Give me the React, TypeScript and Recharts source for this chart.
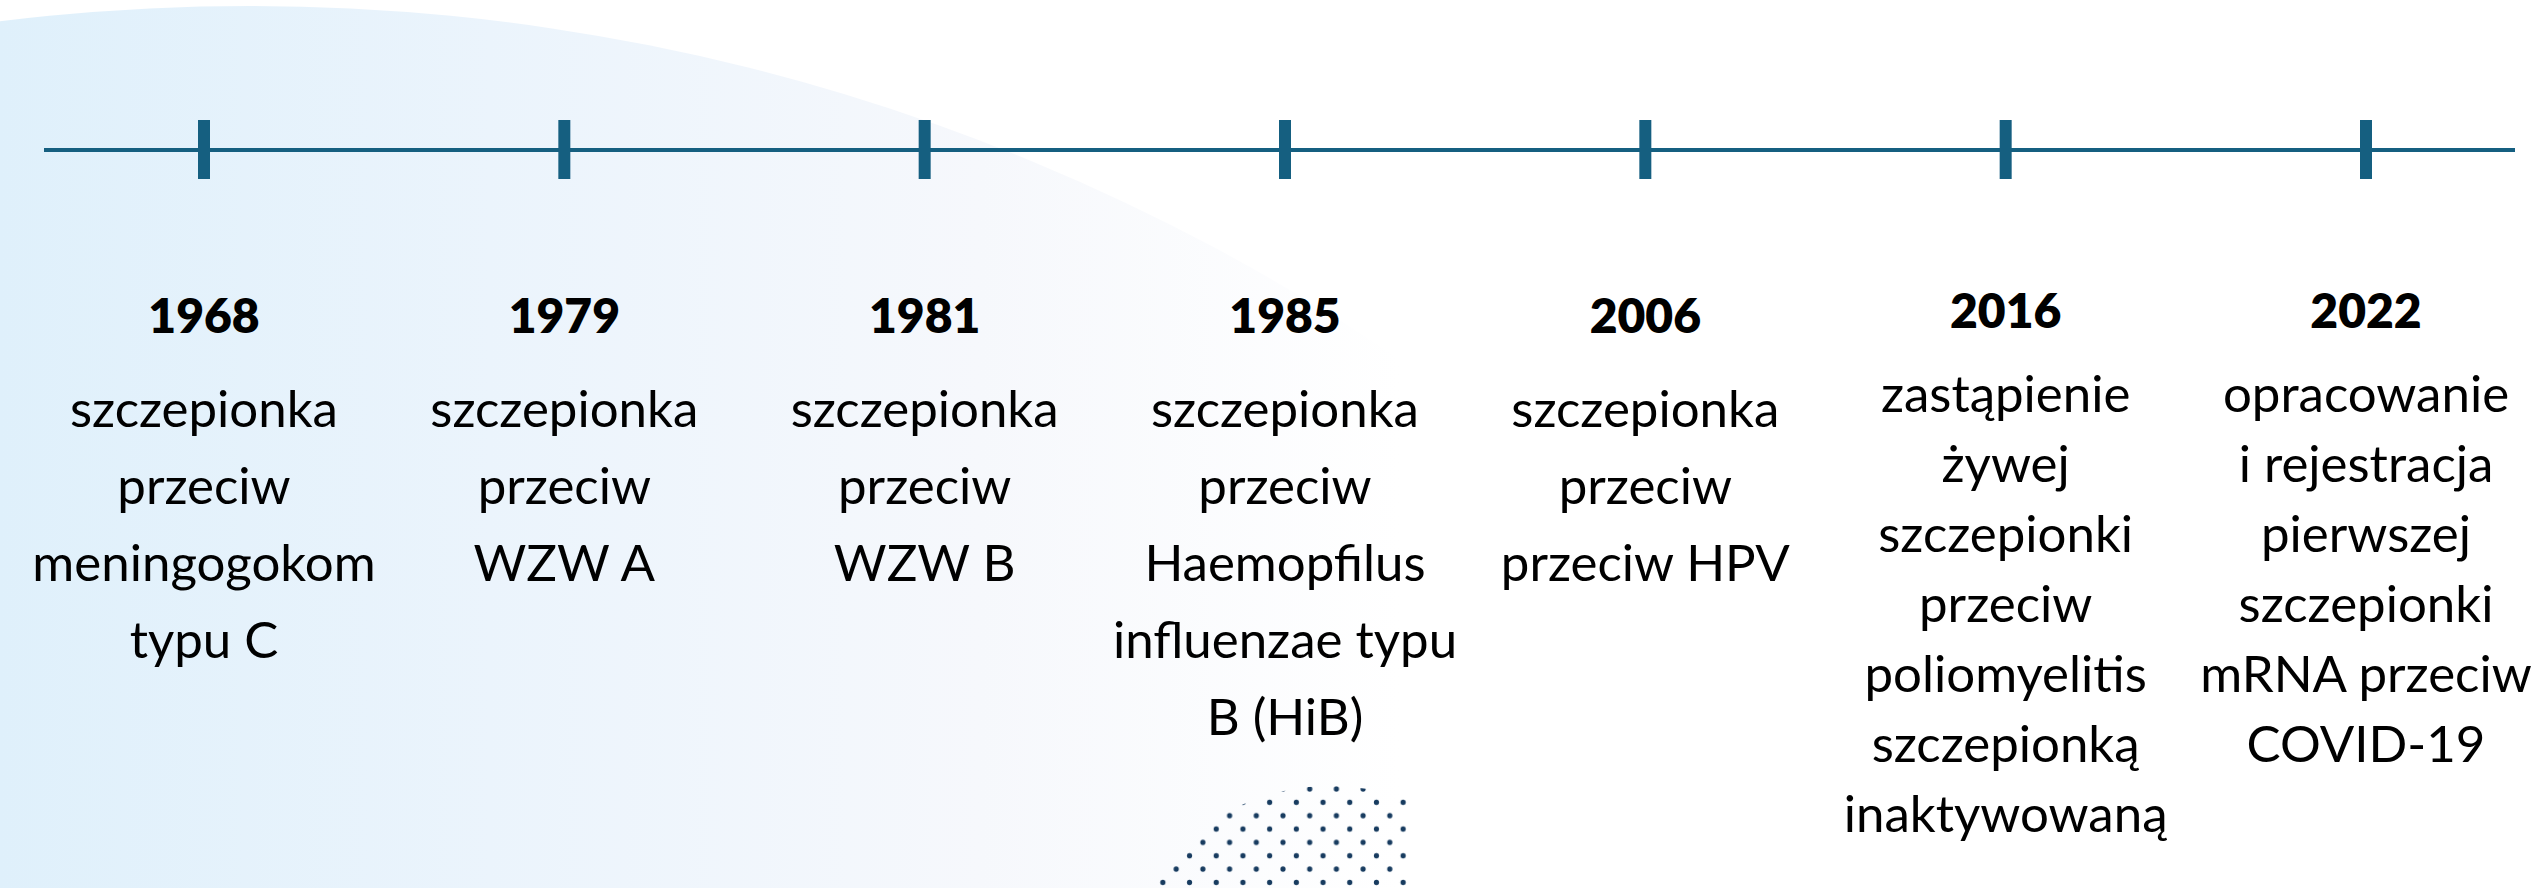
import React from "react";
import { LineChart, Line, XAxis, YAxis } from "recharts";

// Milestones on the timeline
const years = ["1968", "1979", "1981", "1985", "2006", "2016", "2022"];
const descriptions = [
  ["szczepionka", "przeciw", "meningogokom", "typu C"],
  ["szczepionka", "przeciw", "WZW A"],
  ["szczepionka", "przeciw", "WZW B"],
  ["szczepionka", "przeciw", "Haemopfilus", "influenzae typu", "B (HiB)"],
  ["szczepionka", "przeciw", "przeciw HPV"],
  ["zastąpienie", "żywej", "szczepionki", "przeciw", "poliomyelitis", "szczepionką", "inaktywowaną"],
  ["opracowanie", "i rejestracja", "pierwszej", "szczepionki", "mRNA przeciw", "COVID-19"],
];
// every milestone sits on the timeline itself
const level = [1, 1, 1, 1, 1, 1, 1];

const data = years.map((year, i) => ({ year, level: level[i], lines: descriptions[i] }));

const W = 2539;
const H = 888;
const BLUE = "#155F80";
const FONT = "Lato, 'Open Sans', sans-serif";

const Milestone = (props: any) => {
  const { cx, cy, payload, index } = props;
  if (cx == null || cy == null) return null;
  const lines: string[] = payload.lines;
  const compact = lines.length > 5;
  const yearY = cy + (compact ? 178 : 183);
  const firstY = cy + (compact ? 262 : 277);
  const gap = compact ? 70 : 77;
  return (
    <g key={`m-${index}`}>
      <rect x={cx - 6} y={cy - 30} width={12} height={59} fill={BLUE} />
      <text
        x={cx}
        y={yearY}
        textAnchor="middle"
        fontFamily={FONT}
        fontWeight={800}
        fontSize={48}
        fill="#000"
      >
        {payload.year}
      </text>
      {lines.map((l, j) => (
        <text
          key={j}
          x={cx}
          y={firstY + j * gap}
          textAnchor="middle"
          fontFamily={FONT}
          fontSize={51}
          fill="#000"
        >
          {l}
        </text>
      ))}
    </g>
  );
};

const Background: React.FC = () => (
  <svg width={W} height={H} style={{ position: "absolute", left: 0, top: 0 }}>
    <defs>
      <linearGradient id="bgFade" x1="0" y1="0" x2="1400" y2="0" gradientUnits="userSpaceOnUse">
        <stop offset="0" stopColor="#DFF0FB" />
        <stop offset="0.35" stopColor="#EBF4FC" />
        <stop offset="0.7" stopColor="#F6F8FC" />
        <stop offset="1" stopColor="#FFFFFF" />
      </linearGradient>
      <pattern id="dots" x={1283} y={789} width={26.7} height={26.7} patternUnits="userSpaceOnUse">
        <circle cx={0} cy={0} r={2.6} fill="#173B5F" />
        <circle cx={26.7} cy={0} r={2.6} fill="#173B5F" />
        <circle cx={0} cy={26.7} r={2.6} fill="#173B5F" />
        <circle cx={26.7} cy={26.7} r={2.6} fill="#173B5F" />
        <circle cx={13.35} cy={13.35} r={2.6} fill="#173B5F" />
      </pattern>
      <clipPath id="dotClip">
        <rect x={1100} y={770} width={310} height={130} />
      </clipPath>
    </defs>
    <rect width={W} height={H} fill="#FFFFFF" />
    <circle cx={250} cy={2052} r={2046} fill="url(#bgFade)" />
    <circle cx={1330} cy={1002} r={216} fill="url(#dots)" clipPath="url(#dotClip)" />
  </svg>
);

const App: React.FC = () => {
  return (
    <div style={{ position: "fixed", left: 0, top: 0, width: W, height: H, background: "#fff" }}>
      <Background />
      <div style={{ position: "absolute", left: 0, top: 0 }}>
        <LineChart width={W} height={H} data={data} margin={{ top: 120, right: 24, left: 44, bottom: 0 }}>
          <XAxis
            dataKey="year"
            orientation="top"
            height={30}
            tick={false}
            tickLine={false}
            axisLine={{ stroke: BLUE, strokeWidth: 4 }}
            padding={{ left: 160, right: 149 }}
          />
          <YAxis hide domain={[0, 1]} />
          <Line
            dataKey="level"
            stroke="none"
            dot={Milestone}
            activeDot={false}
            isAnimationActive={false}
          />
        </LineChart>
      </div>
    </div>
  );
};

export default App;
